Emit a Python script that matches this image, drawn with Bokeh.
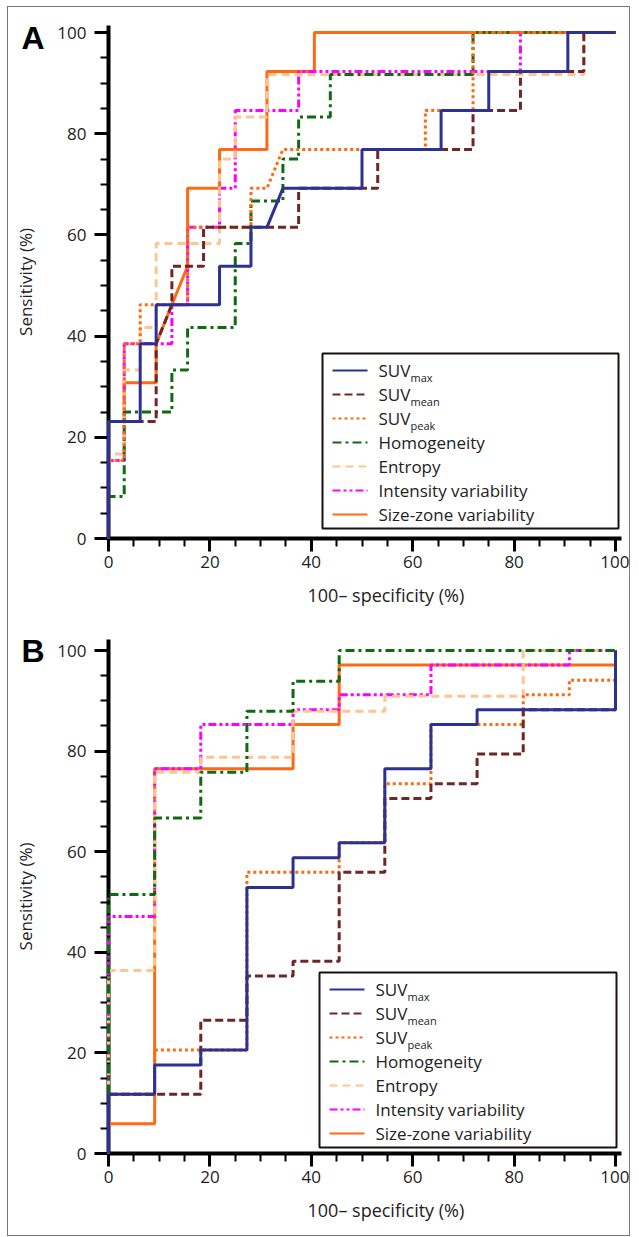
from bokeh.plotting import figure
from bokeh.models import Range1d, SingleIntervalTicker, FixedTicker, LinearAxis, Title
from bokeh.layouts import column
from bokeh.embed import file_html
from bokeh.resources import INLINE
from bokeh.core.properties import value

# ---------------- data (100 - specificity, sensitivity), in % ----------------
SERIES_NAMES = ["SUVmax", "SUVmean", "SUVpeak", "Homogeneity", "Entropy",
                "Intensity variability", "Size-zone variability"]
LEGEND_MAIN = ["SUV", "SUV", "SUV", "Homogeneity", "Entropy",
               "Intensity variability", "Size-zone variability"]
LEGEND_SUB = ["max", "mean", "peak", "", "", "", ""]

# Panel A
A_suvmax_x = [0, 0, 6.25, 6.25, 9.4, 9.4, 21.9, 21.9, 28.1, 28.1, 31.25, 34.4, 50, 50, 65.6, 65.6, 75, 75, 90.6, 90.6, 100]
A_suvmax_y = [0, 23.1, 23.1, 38.5, 38.5, 46.2, 46.2, 53.8, 53.8, 61.5, 61.5, 69.2, 69.2, 76.9, 76.9, 84.6, 84.6, 92.3, 92.3, 100, 100]
A_suvmean_x = [0, 0, 9.4, 9.4, 12.5, 12.5, 18.75, 18.75, 37.5, 37.5, 53.1, 53.1, 71.9, 71.9, 81.25, 81.25, 93.75, 93.75, 100]
A_suvmean_y = [0, 23.1, 23.1, 38.5, 46.2, 53.8, 53.8, 61.5, 61.5, 69.2, 69.2, 76.9, 76.9, 84.6, 84.6, 92.3, 92.3, 100, 100]
A_suvpeak_x = [0, 0, 3.1, 3.1, 6.25, 6.25, 15.6, 15.6, 28.1, 28.1, 31.25, 34.4, 62.5, 62.5, 71.9, 71.9, 100]
A_suvpeak_y = [0, 15.4, 15.4, 38.5, 38.5, 46.2, 46.2, 61.5, 61.5, 69.2, 69.2, 76.9, 76.9, 84.6, 84.6, 100, 100]
A_homog_x = [0, 0, 3.1, 3.1, 12.5, 12.5, 15.6, 15.6, 25, 25, 28.1, 28.1, 34.4, 34.4, 37.5, 37.5, 43.75, 43.75, 71.9, 71.9, 100]
A_homog_y = [0, 8.3, 8.3, 25, 25, 33.3, 33.3, 41.7, 41.7, 58.3, 58.3, 66.7, 66.7, 75, 75, 83.3, 83.3, 91.7, 91.7, 100, 100]
A_entropy_x = [0, 0, 3.1, 3.1, 6.25, 6.25, 9.4, 9.4, 21.9, 21.9, 25, 25, 31.25, 31.25, 93.75, 93.75, 100]
A_entropy_y = [0, 16.7, 16.7, 33.3, 33.3, 41.7, 41.7, 58.3, 58.3, 75, 75, 83.3, 83.3, 91.7, 91.7, 100, 100]
A_intens_x = [0, 0, 3.1, 3.1, 12.5, 12.5, 15.6, 15.6, 21.9, 21.9, 25, 25, 37.5, 37.5, 81.25, 81.25, 100]
A_intens_y = [0, 15.4, 15.4, 38.5, 38.5, 46.2, 46.2, 61.5, 61.5, 69.2, 69.2, 84.6, 84.6, 92.3, 92.3, 100, 100]
A_sizezone_x = [0, 0, 3.1, 3.1, 9.4, 9.4, 12.5, 15.6, 15.6, 21.9, 21.9, 31.25, 31.25, 40.6, 40.6, 100]
A_sizezone_y = [0, 23.1, 23.1, 30.8, 30.8, 38.5, 46.2, 53.8, 69.2, 69.2, 76.9, 76.9, 92.3, 92.3, 100, 100]

# Panel B
B_suvmax_x = [0, 0, 9.1, 9.1, 18.2, 18.2, 27.3, 27.3, 36.4, 36.4, 45.5, 45.5, 54.5, 54.5, 63.6, 63.6, 72.7, 72.7, 100, 100]
B_suvmax_y = [0, 11.8, 11.8, 17.6, 17.6, 20.6, 20.6, 52.9, 52.9, 58.8, 58.8, 61.8, 61.8, 76.5, 76.5, 85.3, 85.3, 88.2, 88.2, 100]
B_suvmean_x = [0, 0, 18.2, 18.2, 27.3, 27.3, 36.4, 36.4, 45.5, 45.5, 54.5, 54.5, 63.6, 63.6, 72.7, 72.7, 81.8, 81.8, 100, 100]
B_suvmean_y = [0, 11.8, 11.8, 26.5, 26.5, 35.3, 35.3, 38.2, 38.2, 55.9, 55.9, 70.6, 70.6, 73.5, 73.5, 79.4, 79.4, 88.2, 88.2, 100]
B_suvpeak_x = [0, 0, 9.1, 9.1, 27.3, 27.3, 45.5, 45.5, 54.5, 54.5, 63.6, 63.6, 81.8, 81.8, 90.9, 90.9, 100, 100]
B_suvpeak_y = [0, 11.8, 11.8, 20.6, 20.6, 55.9, 55.9, 61.8, 61.8, 73.5, 73.5, 85.3, 85.3, 91.2, 91.2, 94.1, 94.1, 100]
B_homog_x = [0, 0, 9.1, 9.1, 18.2, 18.2, 27.3, 27.3, 36.4, 36.4, 45.5, 45.5, 100]
B_homog_y = [0, 51.5, 51.5, 66.7, 66.7, 75.8, 75.8, 87.9, 87.9, 93.9, 93.9, 100, 100]
B_entropy_x = [0, 0, 9.1, 9.1, 18.2, 18.2, 36.4, 36.4, 54.5, 54.5, 81.8, 81.8, 100]
B_entropy_y = [0, 36.4, 36.4, 75.8, 75.8, 78.8, 78.8, 87.9, 87.9, 90.9, 90.9, 100, 100]
B_intens_x = [0, 0, 9.1, 9.1, 18.2, 18.2, 36.4, 36.4, 45.5, 45.5, 63.6, 63.6, 90.9, 90.9, 100]
B_intens_y = [0, 47.1, 47.1, 76.5, 76.5, 85.3, 85.3, 88.2, 88.2, 91.2, 91.2, 97.1, 97.1, 100, 100]
B_sizezone_x = [0, 0, 9.1, 9.1, 36.4, 36.4, 45.5, 45.5, 100, 100]
B_sizezone_y = [0, 5.9, 5.9, 76.5, 76.5, 85.3, 85.3, 97.1, 97.1, 100]

X_TICKS_INTERVAL = 20
X_LABEL = "100\u2013 specificity (%)"
Y_LABEL = "Sensitivity (%)"

# ---------------- styles ----------------
COLORS = ["#2D3192", "#6E2626", "#FF6A10", "#0F6B12", "#FFC490", "#FF00FF", "#FF6814"]
DASHES = ["solid", "8 4", "3 3", "9 4 3 4", "8 5", "8 3 3 3 3 3", "solid"]
FONT = "Open Sans"
XS = 5.07  # px per unit along x
X0 = 108   # page px of x = 0
PAGE_LEFT = 8  # page px of the figures' left edge


def make_panel(letter, letter_tick, data, y0px, ys, fig_h, mb_top, mb_bottom, legend_box):
    frame_h = fig_h - mb_top - mb_bottom
    p = figure(width=621, height=fig_h, output_backend="svg", toolbar_location=None,
               x_range=Range1d(0, 513 / XS), y_range=Range1d(0, frame_h / ys),
               min_border_left=X0 - PAGE_LEFT, min_border_right=621 - (X0 - PAGE_LEFT) - 513,
               min_border_top=mb_top, min_border_bottom=mb_bottom)
    p.grid.visible = False
    p.outline_line_color = None
    p.background_fill_color = "white"
    p.border_fill_color = "white"

    for ax in (p.xaxis[0], p.yaxis[0]):
        ax.ticker = SingleIntervalTicker(interval=X_TICKS_INTERVAL, num_minor_ticks=4)
        ax.axis_line_width = 4
        ax.axis_line_color = "black"
        ax.major_tick_line_width = 3
        ax.major_tick_line_color = "black"
        ax.major_tick_in = 0
        ax.minor_tick_line_width = 2
        ax.minor_tick_line_color = "black"
        ax.minor_tick_in = 0
        ax.minor_tick_out = 8
        ax.major_label_text_font = FONT
        ax.major_label_text_font_size = "17px"
        ax.major_label_text_color = "#222222"
    p.yaxis[0].major_tick_out = 14
    p.xaxis[0].major_tick_out = 13
    p.yaxis[0].major_label_standoff = 8
    p.xaxis[0].major_label_standoff = 4

    # outer left axis: carries the panel letter as its only tick label and the axis title
    lax = LinearAxis(ticker=FixedTicker(ticks=[letter_tick]),
                     major_label_overrides={letter_tick: letter},
                     axis_line_color=None, major_tick_line_color=None,
                     minor_tick_line_color=None, major_tick_out=0, major_tick_in=0,
                     minor_tick_out=0, minor_tick_in=0, major_label_standoff=10,
                     major_label_text_font="Liberation Sans",
                     major_label_text_font_size="32px",
                     major_label_text_font_style="bold",
                     major_label_text_color="black",
                     axis_label=Y_LABEL, axis_label_standoff=-19,
                     axis_label_text_font=FONT, axis_label_text_font_size="17px",
                     axis_label_text_font_style="normal",
                     axis_label_text_color="#222222")
    p.add_layout(lax, "left")

    p.add_layout(Title(text=X_LABEL, align="left", offset=199, standoff=20,
                       text_font=FONT, text_font_size="18px",
                       text_font_style="normal", text_color="#222222"), "below")

    def dx(px):
        return (px - X0) / XS

    def dy(py):
        return (y0px - py) / ys

    # curves, drawn so that SUVmax ends up on top
    for i in reversed(range(len(SERIES_NAMES))):
        xs, ys_ = data[i]
        p.line(xs, ys_, line_color=COLORS[i], line_width=3, line_dash=DASHES[i],
               level="overlay")

    # legend (drawn by hand to allow subscripts)
    lft, rgt, top, bot = legend_box
    p.quad(left=[dx(lft)], right=[dx(rgt)], top=[dy(top)], bottom=[dy(bot)],
           fill_color="white", line_color="#1a1010", line_width=2, level="overlay")
    for i in range(len(SERIES_NAMES)):
        ry = top + 17 + 24 * i
        p.line([dx(lft + 10), dx(lft + 45)], [dy(ry), dy(ry)], line_color=COLORS[i],
               line_width=2, line_dash=DASHES[i], level="overlay")
        p.text(x=[dx(lft + 56)], y=[dy(ry)], text=[LEGEND_MAIN[i]],
               text_font=value(FONT), text_font_size="17px", text_color="#222222",
               text_baseline="middle", text_align="left", level="overlay")
        if LEGEND_SUB[i]:
            p.text(x=[dx(lft + 56)], y=[dy(ry)], text=[LEGEND_SUB[i]], x_offset=32,
                   y_offset=7, text_font=value(FONT), text_font_size="11px",
                   text_color="#222222", text_baseline="middle", text_align="left",
                   level="overlay")
    return p


data_A = [(A_suvmax_x, A_suvmax_y), (A_suvmean_x, A_suvmean_y), (A_suvpeak_x, A_suvpeak_y),
          (A_homog_x, A_homog_y), (A_entropy_x, A_entropy_y), (A_intens_x, A_intens_y),
          (A_sizezone_x, A_sizezone_y)]
data_B = [(B_suvmax_x, B_suvmax_y), (B_suvmean_x, B_suvmean_y), (B_suvpeak_x, B_suvpeak_y),
          (B_homog_x, B_homog_y), (B_entropy_x, B_entropy_y), (B_intens_x, B_intens_y),
          (B_sizezone_x, B_sizezone_y)]

pA = make_panel("A", 99, data_A, y0px=538, ys=5.06, fig_h=615, mb_top=18,
                mb_bottom=84, legend_box=(322, 618, 353, 528))
pB = make_panel("B", 100, data_B, y0px=1153, ys=5.03, fig_h=613, mb_top=17,
                mb_bottom=82, legend_box=(319, 616, 972, 1147))

layout = column(pA, pB, spacing=0,
                styles={"border": "1px solid #777777", "margin-left": "7px",
                        "margin-top": "6px"})

open("out.html", "w").write(file_html(layout, INLINE))
